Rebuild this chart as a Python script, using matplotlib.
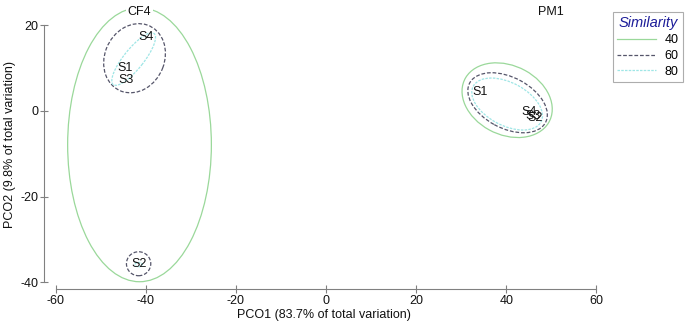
import numpy as np
import matplotlib
matplotlib.use("Agg")
import matplotlib.pyplot as plt
from matplotlib.patches import Ellipse
from matplotlib.lines import Line2D

plt.rcParams['font.family'] = ['Liberation Sans', 'DejaVu Sans']
plt.rcParams['axes.unicode_minus'] = False

# --- DATA ---
sample_labels = ["S1", "S3", "S4", "S2", "S1", "S4", "S3", "S2"]
pco1 = [-44.5, -44.3, -40.0, -41.6, 34.1, 45.0, 46.0, 46.3]
pco2 = [10.1, 7.2, 17.3, -35.7, 4.4, -0.3, -1.2, -1.6]

group_names = ["CF4", "PM1"]
group_x = [-41.4, 50.0]
group_y = [23.0, 23.0]

# similarity contours: (level, center x, center y, width, height, angle)
sim_levels = [40, 60, 80]
contours = [
    (40, -41.4, -7.9, 31.9, 64.0, 0),
    (60, -42.5, 12.3, 16.5, 13.3, 70),
    (80, -42.7, 12.1, 15.0, 4.5, 53),
    (60, -41.6, -35.7, 5.4, 5.6, 0),
    (80, -41.6, -35.9, 1.6, 1.0, 0),
    (40, 40.2, 2.5, 21.2, 16.0, -30),
    (60, 40.3, 1.9, 19.2, 11.8, -30),
    (80, 40.2, 1.6, 17.2, 9.9, -30),
]

styles = {
    40: dict(color='#9ad89a', ls='-', lw=0.9),
    60: dict(color='#55556a', ls=(0, (3, 1.5)), lw=0.9),
    80: dict(color='#9fe6e6', ls=(0, (2, 1)), lw=0.9),
}

fig = plt.figure(figsize=(6.85, 3.24), dpi=100)
ax = fig.add_axes([44 / 685, 35 / 324, (604 - 44) / 685, 289 / 324])

for lev, cx, cy, w, h, ang in contours:
    st = styles[lev]
    ax.add_patch(Ellipse((cx, cy), w, h, angle=ang, fill=False,
                         edgecolor=st['color'], linestyle=st['ls'], linewidth=st['lw']))

for lab, x, y in zip(sample_labels, pco1, pco2):
    ax.text(x, y, lab, ha='center', va='center', fontsize=9, color='#111111')

for name, x, y in zip(group_names, group_x, group_y):
    ax.text(x, y, name, ha='center', va='center', fontsize=9, color='#111111',
            bbox=dict(facecolor='white', edgecolor='none', pad=1.0))

ax.set_xlim(-62.6, 61.7)
ax.set_ylim(-41.6, 25.9)

for s in ['top', 'right']:
    ax.spines[s].set_visible(False)
for s in ['left', 'bottom']:
    ax.spines[s].set_color('#808080')
    ax.spines[s].set_linewidth(0.8)
ax.spines['bottom'].set_bounds(-60, 60)
ax.spines['left'].set_bounds(-40, 20)

ax.set_xticks([-60, -40, -20, 0, 20, 40, 60])
ax.set_yticks([-40, -20, 0, 20])
ax.tick_params(direction='inout', length=6, width=0.8, color='#808080',
               labelsize=9, labelcolor='#111111', pad=1)

ax.set_xlabel("PCO1 (83.7% of total variation)", fontsize=9, color='#111111', labelpad=2)
ax.set_ylabel("PCO2 (9.8% of total variation)", fontsize=9, color='#111111', labelpad=3)

handles = [Line2D([], [], color=styles[l]['color'], ls=styles[l]['ls'], lw=styles[l]['lw'])
           for l in sim_levels]
leg = fig.legend(handles, [str(l) for l in sim_levels], loc='upper right',
                 bbox_to_anchor=(683 / 685, 1 - 12 / 324), fontsize=9,
                 title="Similarity", frameon=True, fancybox=False,
                 handlelength=3.1, markerfirst=True, borderaxespad=0,
                 labelspacing=0.3, handletextpad=0.7, borderpad=0.35)
leg.get_title().set_color('#1c1c99')
leg.get_title().set_fontstyle('italic')
leg.get_title().set_fontsize(10.5)
leg.get_frame().set_edgecolor('#999999')
leg.get_frame().set_linewidth(0.8)

fig.savefig("out.png", dpi=100)
